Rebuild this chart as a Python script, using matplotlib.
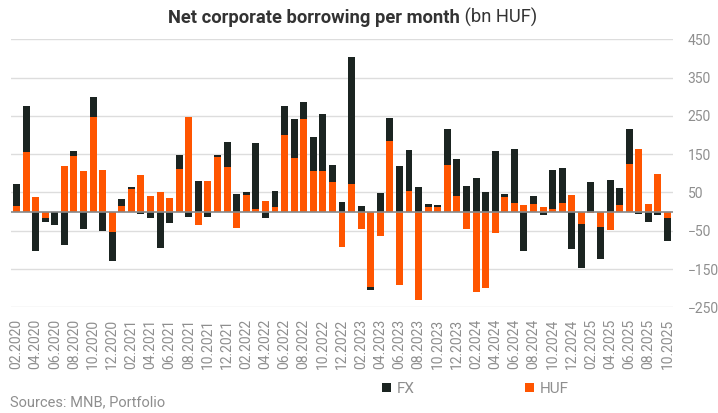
import matplotlib
matplotlib.use("Agg")
import matplotlib.pyplot as plt
import numpy as np

plt.rcParams['font.family'] = ['Roboto', 'DejaVu Sans']

months = []
for y in range(2020, 2026):
    for m in range(1, 13):
        if (y == 2020 and m < 2) or (y == 2025 and m > 10):
            continue
        months.append(f"{m:02d}.{y}")

huf = [14, 155, 37, -17, 0, 118, 145, 105, 246, 108, -54, 14,
       58, 95, 40, 50, 35, 111, 246, -36, 79, 142, 116, -44,
       43, 6, 27, 11, 199, 139, 241, 105, 105, 77, -93, 71,
       -46, -198, -64, 184, -192, 53, -232, 11, 11, 121, 40, -46,
       -211, -200, -57, 37, 22, 17, 19, 11, 6, 22, 43, -33,
       -4, -41, -49, 17, 124, 163, 19, 98, -16]
fx = [57, 120, -104, -11, -36, -88, 13, -46, 52, -51, -76, 18,
      5, -7, -17, -96, -30, 36, -15, 79, -15, 5, 65, 45,
      8, 172, -17, 42, 76, 102, 44, 91, 149, 44, 24, 332,
      14, -8, 48, 60, 118, 107, 64, 8, 5, 94, 97, 66,
      87, 50, 158, 8, 141, -104, 21, -10, 102, 91, -98, -115,
      77, -84, 82, 44, 91, -7, -28, -10, -62]

yticks = [-250, -150, -50, 50, 150, 250, 350, 450]

huf_a = np.array(huf, dtype=float)
fx_a = np.array(fx, dtype=float)
x = np.arange(len(months))
fx_bottom = np.where(np.sign(fx_a) == np.sign(huf_a), huf_a, 0.0)

fig = plt.figure(figsize=(7.18, 4.13), dpi=100)
ax = fig.add_axes([11/718, 1 - 307.3/413, (673 - 11)/718, (307.3 - 39.3)/413])

c_fx = '#1b2421'
c_huf = '#ff5500'
grey = '#8e8e8e'

b_fx = ax.bar(x, fx_a, bottom=fx_bottom, width=0.73, color=c_fx, label='FX', zorder=3)
b_huf = ax.bar(x, huf_a, width=0.73, color=c_huf, label='HUF', zorder=3)

ax.set_xlim(-0.58, len(months) - 0.42)
ax.set_ylim(-250, 450)
ax.set_yticks(yticks)
ax.yaxis.tick_right()
ax.tick_params(axis='y', length=0, pad=10.5, labelsize=10, labelcolor=grey)
for lbl in ax.get_yticklabels():
    lbl.set_horizontalalignment('left')
ax.set_xticks(x[::2])
ax.set_xticklabels(months[::2], rotation=90, fontsize=10, color=grey)
ax.tick_params(axis='x', length=0, pad=8)
ax.grid(axis='y', color='#dddddd', linewidth=1, zorder=0)
ax.axhline(0, color='#888888', linewidth=1.2, zorder=4)
for s in ax.spines.values():
    s.set_visible(False)

t1 = fig.text(0, 0, "Net corporate borrowing per month", fontsize=13.2, fontweight='bold', color='#333333')
t2 = fig.text(0, 0, " (bn HUF)", fontsize=13.2, color='#333333')
fig.canvas.draw()
r = fig.canvas.get_renderer()
w1 = t1.get_window_extent(r).width
w2 = t2.get_window_extent(r).width
x0 = 353 - (w1 + w2) / 2
t1.set_position((x0 / 718, 1 - 23/413))
t2.set_position(((x0 + w1) / 718, 1 - 23/413))

leg = ax.legend(handles=[b_fx, b_huf], labels=['FX', 'HUF'], loc='center left',
                bbox_to_anchor=(368/718, 1 - 389/413), bbox_transform=fig.transFigure,
                ncol=2, frameon=False, handlelength=0.6, handleheight=0.6,
                handletextpad=0.4, columnspacing=7.2, fontsize=11)
for t in leg.get_texts():
    t.set_color(grey)

fig.text(10/718, 1 - 402/413, "Sources: MNB, Portfolio", fontsize=10.5, color=grey, va='center')

fig.savefig("out.png", dpi=100)
